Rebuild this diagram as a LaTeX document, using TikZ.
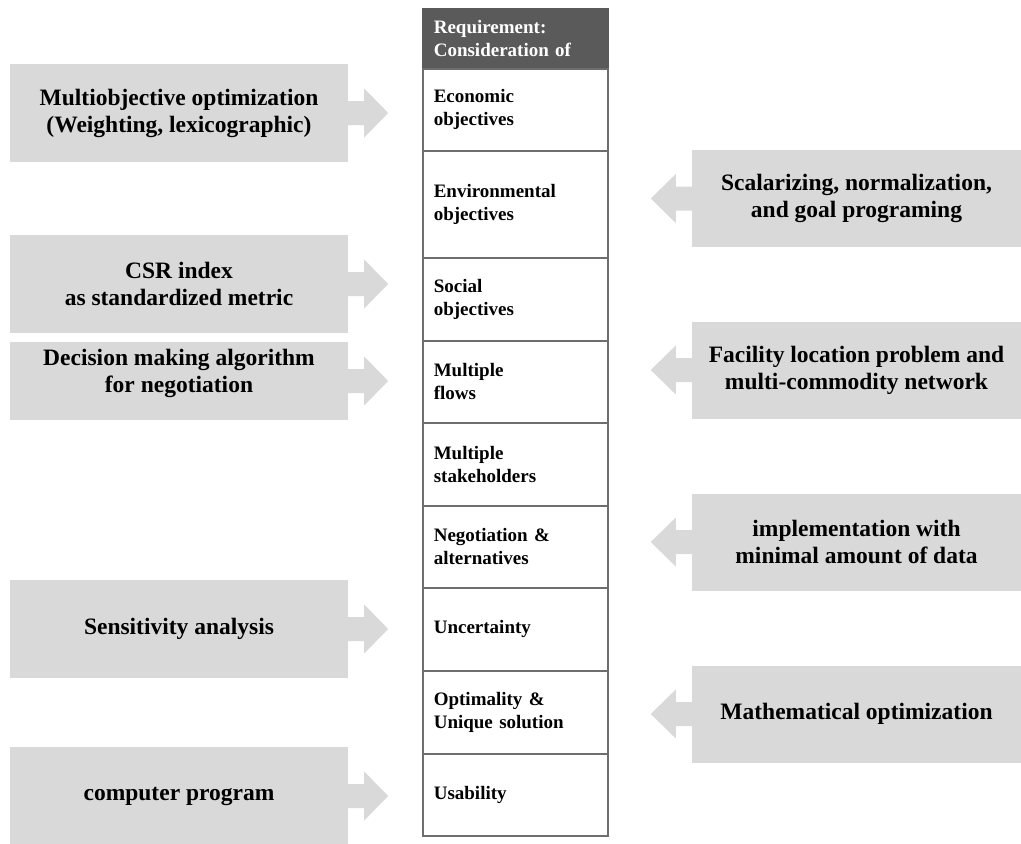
\documentclass[tikz,border=0pt]{standalone}
\usepackage{fontspec}
\setmainfont{Liberation Serif}
\definecolor{boxgray}{HTML}{D9D9D9}
\definecolor{headgray}{HTML}{5A5A5A}
\definecolor{rulegray}{HTML}{6E6E6E}
\tikzset{
  method/.style={fill=boxgray, inner sep=0pt, align=center,
    font=\fontsize{23.5}{27}\selectfont\bfseries},
  leftbox/.style={method, minimum width=338pt, minimum height=98pt},
  rightbox/.style={method, minimum width=329pt, minimum height=97pt},
  cell/.style={draw=rulegray, line width=1.6pt, anchor=north west,
    minimum width=185pt, text width=163pt, inner xsep=11pt, inner ysep=0pt,
    align=left, font=\fontsize{19}{23}\selectfont\bfseries},
  headcell/.style={cell, fill=headgray, draw=headgray, text=white}
}
% block arrows leaving a method box towards the requirement column
\newcommand\blockarrowR[1]{%
  \fill[boxgray] (#1.east) ++(0,12) -- ++(16,0) -- ++(0,12.5) -- ++(24,-24.5)
    -- ++(-24,-24.5) -- ++(0,12.5) -- ++(-16,0) -- cycle;}
\newcommand\blockarrowL[1]{%
  \fill[boxgray] (#1.west) ++(0,12) -- ++(-16,0) -- ++(0,12.5) -- ++(-25,-24.5)
    -- ++(25,-24.5) -- ++(0,12.5) -- ++(16,0) -- cycle;}
\begin{document}
\begin{tikzpicture}[x=1pt,y=-1pt]
\useasboundingbox (0,0) rectangle (1021,844);

% requirement column
\node[headcell, minimum height=60pt] (head) at (422,8) {Requirement:\\Consideration of};
\node[cell, minimum height=82pt]  (econ)  at (422,68)  {Economic\\objectives};
\node[cell, minimum height=107pt] (env)   at (422,150) {Environmental\\objectives};
\node[cell, minimum height=83pt]  (soc)   at (422,257) {Social\\objectives};
\node[cell, minimum height=82pt]  (flows) at (422,340) {Multiple\\flows};
\node[cell, minimum height=83pt]  (stake) at (422,422) {Multiple\\stakeholders};
\node[cell, minimum height=82pt]  (nego)  at (422,505) {Negotiation \&\\alternatives};
\node[cell, minimum height=83pt]  (unc)   at (422,587) {Uncertainty};
\node[cell, minimum height=83pt]  (opt)   at (422,670) {Optimality \&\\Unique solution};
\node[cell, minimum height=82pt]  (usab)  at (422,753) {Usability};

% methods on the left
\node[leftbox] (moo)  at (179,113) {Multiobjective optimization\\(Weighting, lexicographic)};
\node[leftbox] (csr)  at (179,284) {CSR index\\as standardized metric};
\node[leftbox, minimum height=78pt, text depth=20pt] (dma) at (179,381)
  {Decision making algorithm\\for negotiation};
\node[leftbox] (sens) at (179,629) {Sensitivity analysis};
\node[leftbox] (comp) at (179,796) {computer program};

% methods on the right
\node[rightbox] (scal) at (856.5,198.5) {Scalarizing, normalization,\\and goal programing};
\node[rightbox] (fac)  at (856.5,370)   {Facility location problem and\\multi-commodity network};
\node[rightbox] (impl) at (856.5,542)   {implementation with\\minimal amount of data};
\node[rightbox] (math) at (856.5,714)   {Mathematical optimization};

\blockarrowR{moo}
\blockarrowR{csr}
\blockarrowR{dma}
\blockarrowR{sens}
\blockarrowR{comp}
\blockarrowL{scal}
\blockarrowL{fac}
\blockarrowL{impl}
\blockarrowL{math}
\end{tikzpicture}
\end{document}
